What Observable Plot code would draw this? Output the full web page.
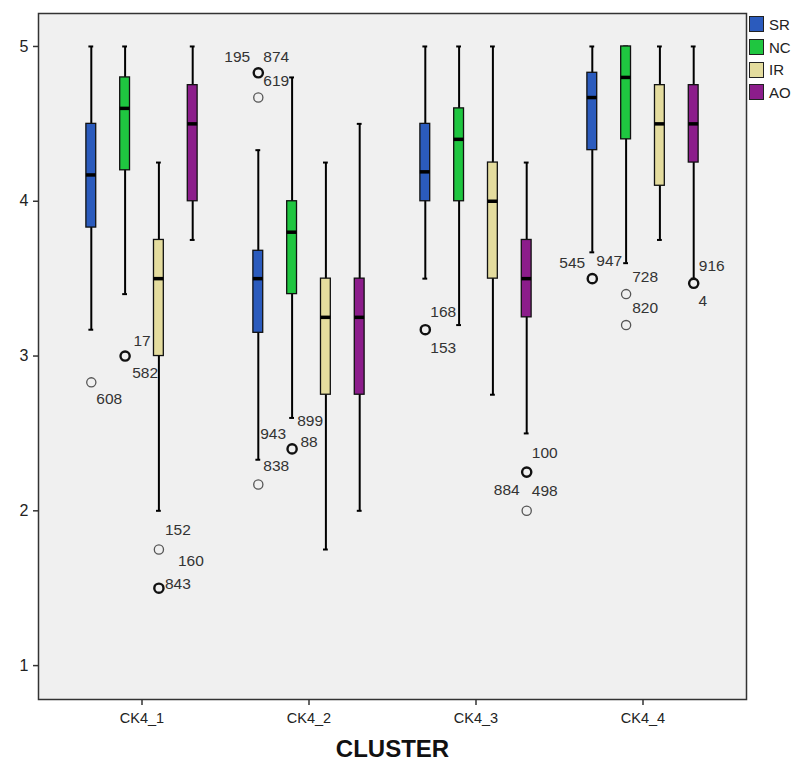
<!DOCTYPE html>
<html>
<head>
<meta charset="utf-8">
<script src="https://cdn.jsdelivr.net/npm/d3@7"></script>
<script src="https://cdn.jsdelivr.net/npm/@observablehq/plot@0.6"></script>
<style>
  body { margin: 0; background: #fff; font-family: "Liberation Sans", Arial, sans-serif; }
  #wrap { position: relative; width: 795px; height: 769px; }
  #legend { position: absolute; left: 749px; top: 13px; font-size: 15px; color: #222; }
  .row { display: flex; align-items: center; height: 22.7px; }
  .sw { width: 13px; height: 14px; border: 1px solid #222; margin-right: 5px; box-sizing: content-box; }
</style>
</head>
<body>
<div id="wrap"><div id="legend"></div></div>
<script>
// ---- data ----
const clusters = ["CK4_1", "CK4_2", "CK4_3", "CK4_4"];
const series = ["SR", "NC", "IR", "AO"];
const seriesColors = ["#2b5bbd", "#1fc640", "#e4dc9e", "#8c1d8b"];
const yTicks = [1, 2, 3, 4, 5];

// rows: series (SR, NC, IR, AO); columns: clusters
const whiskerLow  = [[3.17, 2.33, 3.5, 3.67], [3.4, 2.6, 3.2, 3.6], [2.0, 1.75, 2.75, 3.75], [3.75, 2.0, 2.5, 3.5]];
const quartile1   = [[3.83, 3.15, 4.0, 4.33], [4.2, 3.4, 4.0, 4.4], [3.0, 2.75, 3.5, 4.1], [4.0, 2.75, 3.25, 4.25]];
const medians     = [[4.17, 3.5, 4.19, 4.67], [4.6, 3.8, 4.4, 4.8], [3.5, 3.25, 4.0, 4.5], [4.5, 3.25, 3.5, 4.5]];
const quartile3   = [[4.5, 3.68, 4.5, 4.83], [4.8, 4.0, 4.6, 5.0], [3.75, 3.5, 4.25, 4.75], [4.75, 3.5, 3.75, 4.75]];
const whiskerHigh = [[5, 4.33, 5, 5], [5, 4.8, 5, 5], [4.25, 4.25, 5, 5], [5, 4.5, 4.25, 5]];

const outlierCluster = ["CK4_1","CK4_1","CK4_1","CK4_1","CK4_2","CK4_2","CK4_2","CK4_2","CK4_3","CK4_3","CK4_3","CK4_4","CK4_4","CK4_4","CK4_4"];
const outlierSeries  = ["SR","NC","IR","IR","SR","SR","SR","NC","SR","AO","AO","SR","NC","NC","AO"];
const outlierValue   = [2.83, 3.0, 1.75, 1.5, 4.83, 4.67, 2.17, 2.4, 3.17, 2.25, 2.0, 3.5, 3.4, 3.2, 3.47];
const outlierCount   = [1, 2, 1, 2, 2, 1, 1, 2, 2, 2, 1, 2, 1, 1, 2];

const labelText    = ["608","17","582","152","160","843","195","874","619","838","943","88","899","168","153","100","884","498","545","947","728","820","916","4"];
const labelOutlier = [0, 1, 1, 2, 3, 3, 4, 4, 4, 6, 7, 7, 7, 8, 8, 9, 9, 10, 11, 11, 12, 13, 14, 14];
// layout: label nudge from its point (px)
const labelNudge = [[18,17],[17,-15],[20,17],[19,-19],[32,-27],[19,-4],[-21,-16],[18,-16],[18,8],[18,-18],[-19,-15],[17,-7],[18,-28],[18,-18],[18,18],[18,-19],[-20,18],[18,-20],[-20,-16],[17,-18],[19,-17],[19,-17],[18,-17],[9,18]];

// ---- tables ----
const boxes = [];
series.forEach((s, i) => clusters.forEach((c, j) => boxes.push({
  series: s, cluster: c, low: whiskerLow[i][j], q1: quartile1[i][j], median: medians[i][j], q3: quartile3[i][j], high: whiskerHigh[i][j]
})));
const outliers = outlierValue.map((v, k) => ({cluster: outlierCluster[k], series: outlierSeries[k], value: v, count: outlierCount[k]}));

// ---- layout ----
const xRange = [57.9, 726.6];
const bw = (xRange[1] - xRange[0]) / clusters.length;
const step = 33.8;
const offset = s => (series.indexOf(s) - 1.5) * step;
const boxW = 10, capW = 5;

const marks = [Plot.frame({fill: "#f0f0f0"})];
series.forEach((s, i) => {
  const d = boxes.filter(b => b.series === s);
  const dx = offset(s);
  marks.push(
    Plot.ruleX(d, {x: "cluster", y1: "low", y2: "high", dx, stroke: "#000", strokeWidth: 2}),
    Plot.tickY(d, {x: "cluster", y: "low", dx, insetLeft: (bw - capW) / 2, insetRight: (bw - capW) / 2, stroke: "#000", strokeWidth: 2}),
    Plot.tickY(d, {x: "cluster", y: "high", dx, insetLeft: (bw - capW) / 2, insetRight: (bw - capW) / 2, stroke: "#000", strokeWidth: 2}),
    Plot.barY(d, {x: "cluster", y1: "q1", y2: "q3", dx, insetLeft: (bw - boxW) / 2, insetRight: (bw - boxW) / 2, fill: seriesColors[i], stroke: "#111", strokeWidth: 1.3}),
    Plot.tickY(d, {x: "cluster", y: "median", dx, insetLeft: (bw - boxW) / 2, insetRight: (bw - boxW) / 2, stroke: "#000", strokeWidth: 3.5}),
    Plot.dot(outliers.filter(o => o.series === s), {x: "cluster", y: "value", dx, r: 4.6, fill: "none",
      stroke: o => o.count > 1 ? "#111" : "#555", strokeWidth: o => o.count > 1 ? 2.4 : 1.3})
  );
});
labelText.forEach((t, k) => {
  const o = outliers[labelOutlier[k]];
  marks.push(Plot.text([o], {x: "cluster", y: "value", text: () => t, dx: offset(o.series) + labelNudge[k][0], dy: labelNudge[k][1], fontSize: 15.5, fill: "#333"}));
});
marks.push(
  Plot.frame({stroke: "#333", strokeWidth: 1.5}),
  Plot.axisY({ticks: yTicks, tickFormat: d => String(d), tickSize: 5, tickPadding: 5, fontSize: 16, label: null, stroke: "#333", strokeWidth: 1.5}),
  Plot.axisX({tickSize: 6, tickPadding: 7, fontSize: 14.5, label: null, stroke: "#333", strokeWidth: 1.5}),
  Plot.text(["CLUSTER"], {text: d => d, frameAnchor: "bottom", dy: 57, fontSize: 24, fontWeight: "bold", fill: "#111"})
);

const chart = Plot.plot({
  width: 795, height: 769,
  marginLeft: 38, marginRight: 49, marginTop: 13, marginBottom: 70,
  style: {fontFamily: "Liberation Sans, Arial, sans-serif", background: "transparent", color: "#222", overflow: "visible"},
  x: {type: "band", domain: clusters, range: xRange, padding: 0},
  y: {domain: [0.781, 5.213]},
  marks
});
document.getElementById("wrap").prepend(chart);

const legend = document.getElementById("legend");
series.forEach((s, i) => {
  const row = document.createElement("div");
  row.className = "row";
  row.innerHTML = `<div class="sw" style="background:${seriesColors[i]}"></div><span>${s}</span>`;
  legend.appendChild(row);
});
</script>
</body>
</html>
